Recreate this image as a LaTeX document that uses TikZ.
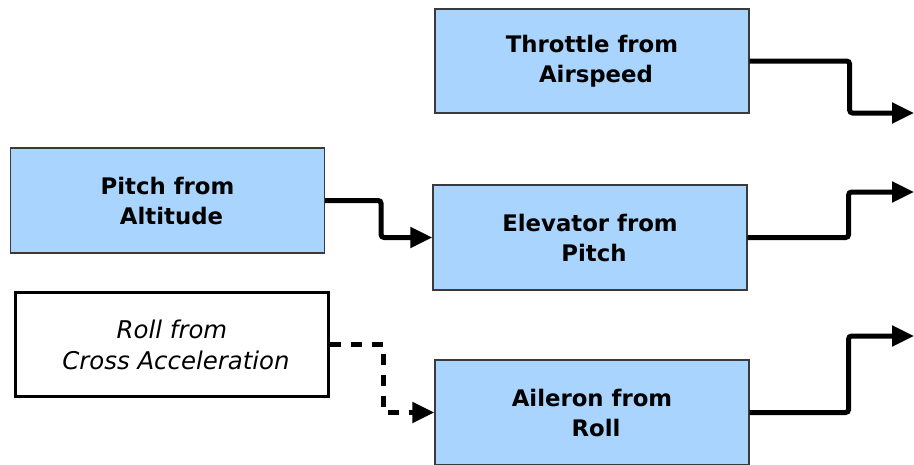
\documentclass[tikz,border=0pt]{standalone}
\usepackage{fontspec}
\setmainfont{DejaVu Sans}
\usetikzlibrary{arrows.meta}
\definecolor{boxblue}{HTML}{A8D4FD}
\definecolor{boxline}{HTML}{3A3A3A}
\tikzset{
  ctrl/.style={rectangle, draw=boxline, line width=1.2pt, fill=boxblue,
    minimum width=314pt, minimum height=105pt, inner sep=0pt, align=center,
    font=\fontsize{22.8pt}{30pt}\selectfont\bfseries},
  ext/.style={rectangle, draw=black, line width=2.6pt, fill=white,
    minimum width=313pt, minimum height=104pt, inner sep=0pt, align=center,
    font=\fontsize{24.4pt}{31pt}\selectfont\itshape},
  link/.style={line width=5pt, rounded corners=3pt, -{Triangle[length=22pt,width=20pt]}},
  dlink/.style={line width=5pt, sharp corners, dash pattern=on 11pt off 10pt,
    -{Triangle[length=22pt,width=20pt]}}
}
\begin{document}
\begin{tikzpicture}[x=1pt,y=-1pt]
\useasboundingbox (0,0) rectangle (914,464);
\node[ctrl, minimum height=104pt] (thr) at (592,61) {Throttle from\\\hspace*{8pt}Airspeed};
\node[ctrl] (pit) at (167.5,200.5) {Pitch from\\\hspace*{8pt}Altitude};
\node[ctrl] (ele) at (590,237.5) {Elevator from\\\hspace*{8pt}Pitch};
\node[ext] (rol) at (172,344.5) {Roll from\\\hspace*{8pt}Cross Acceleration};
\node[ctrl] (ail) at (592,412.5) {Aileron from\\\hspace*{8pt}Roll};
\coordinate (o1) at (914,113);
\coordinate (o2) at (914,192);
\coordinate (o3) at (914,336);
\draw[link] (thr.east) -- ++(100,0) |- (o1);
\draw[link] (ele.east) -- ++(101,0) |- (o2);
\draw[link] (ail.east) -- ++(99,0) |- (o3);
\draw[link] (pit.east) -- ++(56,0) |- (ele.west);
\draw[dlink] (rol.east) -- ++(54,0) |- (ail.west);
\end{tikzpicture}
\end{document}
